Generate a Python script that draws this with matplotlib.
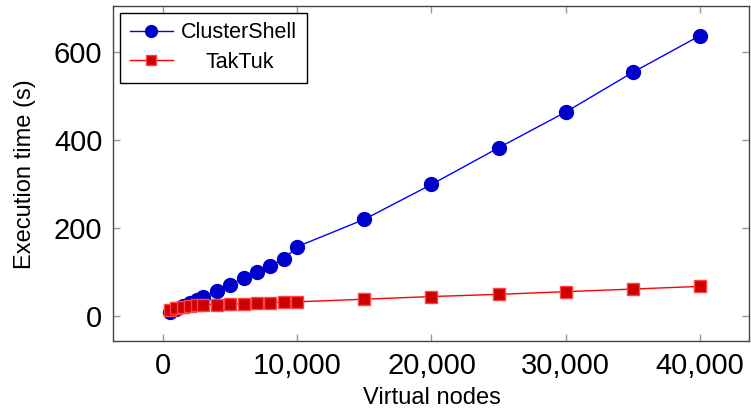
import matplotlib.pyplot as plt
from matplotlib.ticker import FuncFormatter

# virtual nodes and execution times (s)
nodes = [500, 1000, 1500, 2000, 2500, 3000, 4000, 5000, 6000, 7000, 8000, 9000,
         10000, 15000, 20000, 25000, 30000, 35000, 40000]
clustershell = [10, 17, 23, 30, 37, 44, 57, 72, 87, 101, 115, 130,
                158, 220, 299, 382, 463, 553, 636]
taktuk = [15, 20, 22, 24, 25, 26, 27, 28, 29, 30, 31, 32,
          33, 39, 45, 50, 56, 62, 68]

plt.rcParams['font.family'] = ['Liberation Sans', 'DejaVu Sans']

fig = plt.figure(figsize=(7.51, 4.11), dpi=100)
ax = fig.add_axes([0.151, 0.170, 0.847, 0.815])

ax.plot(nodes, clustershell, color='#0000ff', lw=1, marker='o', markersize=10,
        markerfacecolor='#0000cc', markeredgecolor='#0000cc', label='ClusterShell')
ax.plot(nodes, taktuk, color='#ff0000', lw=1, marker='s', markersize=9,
        markerfacecolor='#cc0000', markeredgecolor='#ff4444', markeredgewidth=1,
        label='TakTuk')

ax.set_xlim(-3700, 43700)
ax.set_ylim(-56, 703)
ax.set_xticks([0, 10000, 20000, 30000, 40000])
ax.set_yticks([0, 200, 400, 600])
ax.xaxis.set_major_formatter(FuncFormatter(lambda v, p: f'{int(v):,}'))

ax.tick_params(direction='in', length=5, color='#999999', width=1,
               top=True, right=True, pad=8)
for lab in ax.get_xticklabels():
    lab.set_family(['Liberation Sans Narrow', 'Liberation Sans'])
    lab.set_fontsize(21)
for lab in ax.get_yticklabels():
    lab.set_fontsize(21)
for s in ax.spines.values():
    s.set_color('#444444')
    s.set_linewidth(1)

ax.set_xlabel('Virtual nodes', fontsize=17, labelpad=5)
ax.set_ylabel('Execution time (s)', fontsize=17)
ax.yaxis.set_label_coords(-0.122, 0.5)

leg = ax.legend(loc='upper left', fontsize=15.5, frameon=True, fancybox=False,
                edgecolor='black', framealpha=1, borderaxespad=0.3,
                handlelength=2.0, handletextpad=0.4, borderpad=0.45,
                labelspacing=0.4, markerscale=0.85)
leg.get_frame().set_linewidth(1)

# center the legend labels like pgfplots does
fig.canvas.draw()
r = fig.canvas.get_renderer()
widths = [t.get_window_extent(r).width for t in leg.get_texts()]
wmax = max(widths)
for t, w in zip(leg.get_texts(), widths):
    t.set_x((wmax - w) / 2)

fig.savefig('out.png', dpi=100)
